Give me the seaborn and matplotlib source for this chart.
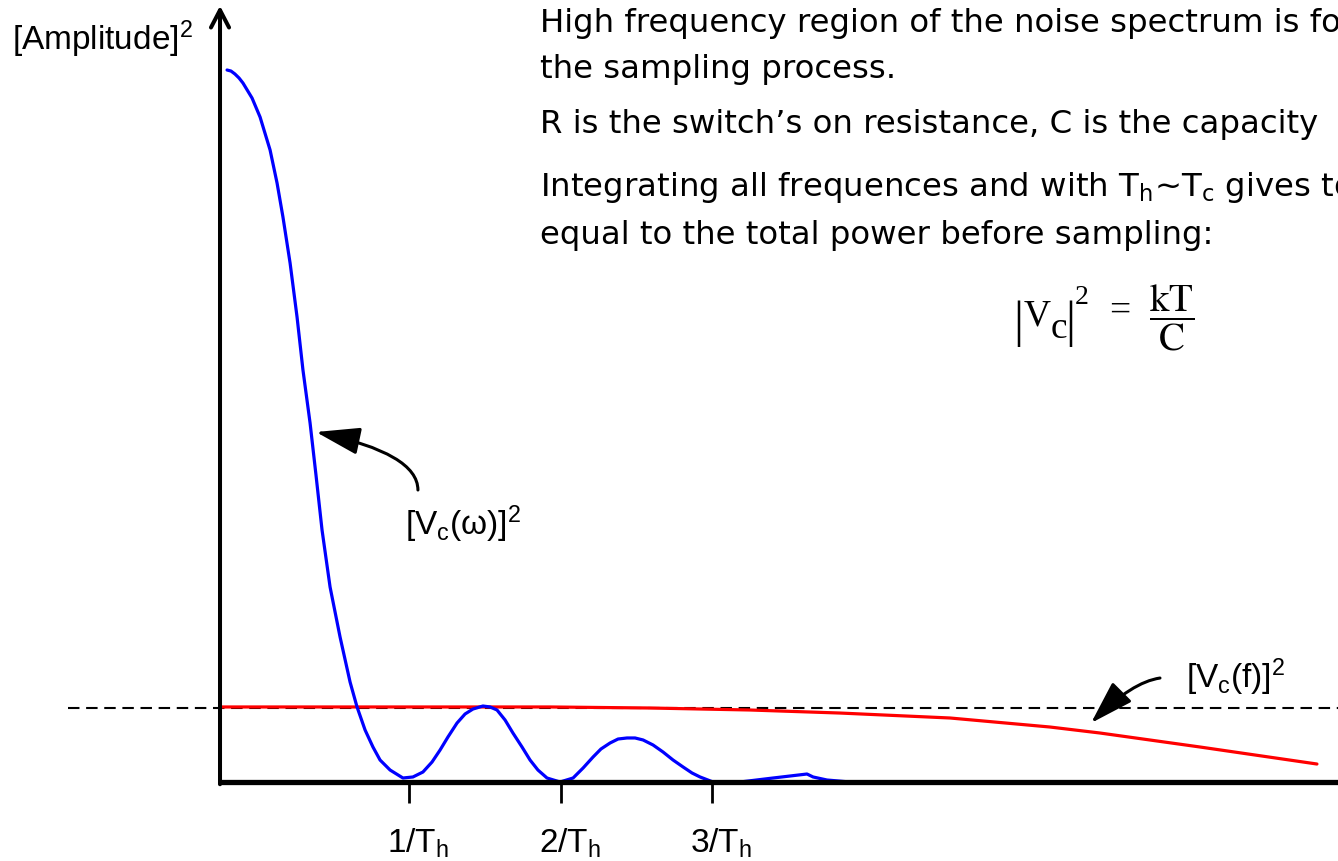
import matplotlib
matplotlib.use('Agg')
import matplotlib.pyplot as plt
import seaborn as sns
import pandas as pd

# ---------------- data (frequency in units of 1/T_h, power relative to the kT/C level) ----------------
blue_freq = [-0.201, -0.175, -0.149, -0.122, -0.096, -0.036, 0.017, 0.083, 0.129, 0.168, 0.215, 0.261,
             0.300, 0.347, 0.386, 0.426, 0.479, 0.545, 0.611, 0.657, 0.710, 0.762, 0.809, 0.875,
             0.960, 1.026, 1.092, 1.152, 1.205, 1.257, 1.317, 1.370, 1.422, 1.488, 1.535, 1.581,
             1.634, 1.686, 1.746, 1.799, 1.851, 1.911, 1.997, 2.083, 2.149, 2.215, 2.267, 2.327,
             2.380, 2.439, 2.492, 2.545, 2.611, 2.677, 2.743, 2.809, 2.868, 2.921, 3.007, 3.185,
             3.403, 3.627, 3.667, 3.759, 3.911]
blue_amp = [9.622, 9.608, 9.568, 9.514, 9.446, 9.243, 8.986, 8.541, 8.095, 7.635, 7.014, 6.284,
            5.568, 4.851, 4.149, 3.405, 2.635, 1.959, 1.351, 1.014, 0.703, 0.473, 0.297, 0.162,
            0.054, 0.068, 0.135, 0.270, 0.432, 0.608, 0.797, 0.919, 0.986, 1.027, 1.014, 0.973,
            0.838, 0.662, 0.473, 0.297, 0.162, 0.054, 0.000, 0.054, 0.189, 0.338, 0.446, 0.527,
            0.581, 0.595, 0.595, 0.568, 0.500, 0.405, 0.297, 0.203, 0.122, 0.068, 0.000, 0.000,
            0.054, 0.108, 0.068, 0.027, 0.000]
red_freq = [-0.248, 0.941, 1.931, 2.591, 3.251, 3.845, 4.571, 5.231, 5.561, 6.221, 6.993]
red_amp = [1.014, 1.014, 1.014, 1.000, 0.973, 0.932, 0.865, 0.743, 0.662, 0.473, 0.243]
ref_level = 1.0
tick_pos = [1, 2, 3]
tick_labels = [r'1/T$_\mathrm{h}$', r'2/T$_\mathrm{h}$', r'3/T$_\mathrm{h}$']
y_label = r'[Amplitude]$^2$'
blue_label = r'[V$_\mathrm{c}$(ω)]$^2$'
red_label = r'[V$_\mathrm{c}$(f)]$^2$'
notes = ['High frequency region of the noise spectrum is fo',
         'the sampling process.',
         'R is the switch’s on resistance, C is the capacity',
         r'Integrating all frequences and with T$_\mathrm{h}$~T$_\mathrm{c}$ gives to',
         'equal to the total power before sampling:']
formula_v = 'V'
formula_sub = 'c'
formula_exp = '2'
formula_eq = '='
formula_frac = r'$\dfrac{\mathrm{kT}}{\mathrm{C}}$'

# ---------------- style ----------------
sns.set_style('white')
plt.rcParams['font.family'] = ['Liberation Sans', 'DejaVu Sans']
plt.rcParams['text.color'] = 'black'
plt.rcParams['mathtext.fontset'] = 'custom'
plt.rcParams['mathtext.rm'] = 'Liberation Sans'
plt.rcParams['mathtext.it'] = 'Liberation Sans:italic'
plt.rcParams['mathtext.bf'] = 'Liberation Sans:bold'
plt.rcParams['mathtext.sf'] = 'Liberation Sans'

W, H = 1338, 861
fig = plt.figure(figsize=(W / 100, H / 100), dpi=100)
ax = fig.add_axes([0, 0, 1, 1])
ax.set_xlim(-1.6997, 7.132)
ax.set_ylim(-1.0676, 10.568)
ax.axis('off')

def fx(p):
    return p / W

def fy(p):
    return 1 - p / H

FS = 24

# reference level (dashed)
ax.axhline(ref_level, xmin=fx(68), xmax=1, color='black', lw=1.5, dashes=(5.5, 3.2))

# curves
df_blue = pd.DataFrame({'f': blue_freq, 'p': blue_amp})
df_red = pd.DataFrame({'f': red_freq, 'p': red_amp})
sns.lineplot(data=df_red, x='f', y='p', color='#ff0000', lw=2.3, sort=False, estimator=None, ax=ax)
sns.lineplot(data=df_blue, x='f', y='p', color='#0000ff', lw=2.3, sort=False, estimator=None, ax=ax,
             solid_capstyle='round', solid_joinstyle='round')

# axes
y_axis_x = -0.2475
ax.annotate('', xy=(y_axis_x, 10.49), xytext=(y_axis_x, -0.03),
            arrowprops=dict(arrowstyle='->,head_length=1.25,head_width=0.65', lw=2.9, color='black',
                            shrinkA=0, shrinkB=0, mutation_scale=10))
ax.plot([y_axis_x - 0.01, 7.3], [0, 0], color='black', lw=3.8, solid_capstyle='butt')
ax.vlines(tick_pos, -0.28, 0, color='black', lw=2.0)
for t, lab in zip(tick_pos, tick_labels):
    ax.text(t - 0.145, -0.959, lab, ha='left', va='baseline', fontsize=FS)

# labels
fig.text(fx(12), fy(50), y_label, ha='left', va='baseline', fontsize=FS)
fig.text(fx(405), fy(535), blue_label, ha='left', va='baseline', fontsize=FS)
fig.text(fx(1186), fy(688), red_label, ha='left', va='baseline', fontsize=FS)

# annotation arrows
ax.annotate('', xy=(0.386, 4.730), xytext=(1.059, 3.946),
            arrowprops=dict(arrowstyle='-|>,head_length=1.35,head_width=0.42', lw=2.2, color='black',
                            shrinkA=0, shrinkB=0, mutation_scale=20,
                            connectionstyle='angle3,angleA=90,angleB=-12'))
ax.annotate('', xy=(5.502, 0.797), xytext=(5.957, 1.405),
            arrowprops=dict(arrowstyle='-|>,head_length=1.35,head_width=0.42', lw=2.2, color='black',
                            shrinkA=0, shrinkB=0, mutation_scale=20,
                            connectionstyle='angle3,angleA=8,angleB=45'))

# notes
for base, line in zip([32, 78, 133, 196, 244], notes):
    fig.text(fx(540), fy(base), line, ha='left', va='baseline', fontsize=23.3,
             family='DejaVu Sans', math_fontfamily='dejavusans')

# formula |Vc|^2 = kT/C
serif = 'Liberation Serif'
fig.text(fx(1013), fy(336), '|', ha='left', va='baseline', fontsize=36, family=serif)
fig.text(fx(1024), fy(325), formula_v, ha='left', va='baseline', fontsize=27, family=serif)
fig.text(fx(1051), fy(338), formula_sub, ha='left', va='baseline', fontsize=27, family=serif)
fig.text(fx(1065), fy(336), '|', ha='left', va='baseline', fontsize=36, family=serif)
fig.text(fx(1075), fy(304), formula_exp, ha='left', va='baseline', fontsize=20, family=serif)
fig.text(fx(1120), fy(311), formula_eq, ha='center', va='center', fontsize=27, family=serif)
fig.text(fx(1172), fy(318), formula_frac, ha='center', va='center', fontsize=28, math_fontfamily='stix')

fig.savefig('out.png', dpi=100)
